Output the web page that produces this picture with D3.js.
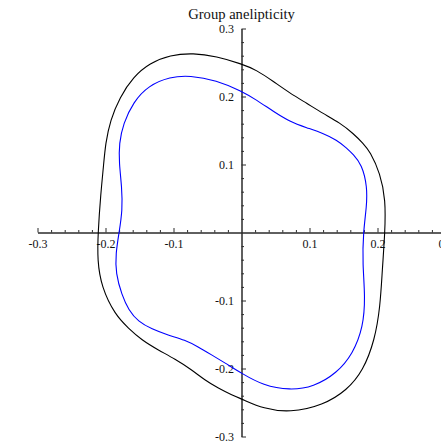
<!DOCTYPE html>
<html>
<head>
<meta charset="utf-8">
<script src="https://cdn.jsdelivr.net/npm/d3@7"></script>
<style>
  html, body { margin: 0; padding: 0; background: #fff; }
  svg { display: block; }
  text { font-family: "Liberation Serif", "Times New Roman", serif; }
</style>
</head>
<body>
<svg id="chart" width="441" height="447"></svg>
<script>
// Outer contour (black), traced clockwise from the top, [x, y]
const outerCurve = [
  [0.000, 0.248], [0.022, 0.239], [0.047, 0.222], [0.071, 0.205],
  [0.096, 0.190], [0.120, 0.175], [0.145, 0.161], [0.164, 0.146],
  [0.179, 0.131], [0.189, 0.119], [0.204, 0.087], [0.212, 0.048],
  [0.211, 0.000], [0.207, -0.055], [0.204, -0.109], [0.196, -0.158],
  [0.179, -0.203], [0.155, -0.232], [0.120, -0.254], [0.071, -0.265],
  [0.032, -0.259], [0.003, -0.246], [-0.014, -0.239], [-0.034, -0.229],
  [-0.054, -0.217], [-0.073, -0.202], [-0.098, -0.186], [-0.122, -0.173],
  [-0.147, -0.158], [-0.166, -0.141], [-0.186, -0.121], [-0.206, -0.080],
  [-0.212, -0.041], [-0.211, 0.000], [-0.207, 0.057], [-0.203, 0.097],
  [-0.200, 0.131], [-0.193, 0.165], [-0.179, 0.199], [-0.159, 0.229],
  [-0.135, 0.249], [-0.105, 0.261], [-0.071, 0.264], [-0.037, 0.259]
];

// Inner contour (blue), traced clockwise from the top, [x, y]
const innerCurve = [
  [0.000, 0.208], [0.022, 0.195], [0.047, 0.178], [0.071, 0.163],
  [0.096, 0.154], [0.120, 0.146], [0.140, 0.136], [0.155, 0.124],
  [0.164, 0.115], [0.177, 0.100], [0.185, 0.067], [0.184, 0.038],
  [0.179, 0.000], [0.178, -0.046], [0.182, -0.095], [0.179, -0.139],
  [0.164, -0.178], [0.140, -0.207], [0.106, -0.227], [0.071, -0.232],
  [0.032, -0.225], [0.000, -0.207], [-0.024, -0.192], [-0.044, -0.180],
  [-0.064, -0.168], [-0.083, -0.158], [-0.108, -0.151], [-0.132, -0.142],
  [-0.152, -0.131], [-0.166, -0.114], [-0.176, -0.092], [-0.185, -0.060],
  [-0.185, -0.031], [-0.180, 0.000], [-0.175, 0.033], [-0.176, 0.067],
  [-0.180, 0.102], [-0.180, 0.131], [-0.174, 0.160], [-0.159, 0.192],
  [-0.137, 0.216], [-0.105, 0.229], [-0.076, 0.231], [-0.037, 0.224]
];

// Axis ticks and their labels
const majorTicks = [-0.3, -0.2, -0.1, 0.1, 0.2, 0.3];
const majorLabels = ["-0.3", "-0.2", "-0.1", "0.1", "0.2", "0.3"];
const minorTicks = [-0.28, -0.26, -0.24, -0.22, -0.18, -0.16, -0.14, -0.12,
  -0.08, -0.06, -0.04, -0.02, 0.02, 0.04, 0.06, 0.08, 0.12, 0.14, 0.16, 0.18,
  0.22, 0.24, 0.26, 0.28];
const chartTitle = "Group anelipticity";

const svg = d3.select("#chart");

const x = d3.scaleLinear().domain([-0.3, 0.3]).range([37.5, 445.5]);
const y = d3.scaleLinear().domain([-0.3, 0.3]).range([436.5, 28.5]);

const labelOf = v => majorLabels[majorTicks.indexOf(v)];
const axisColor = "#2a2a2a";

// Horizontal axis through the origin, ticks pointing up, labels below
const xAxisG = svg.append("g").attr("transform", `translate(0,${y(0)})`);
xAxisG.append("g")
  .call(d3.axisBottom(x).tickValues(minorTicks).tickSize(-2.5).tickSizeOuter(0).tickFormat(""));
xAxisG.append("g")
  .call(d3.axisBottom(x).tickValues(majorTicks).tickSize(-4.5).tickSizeOuter(0)
    .tickPadding(7).tickFormat(labelOf));

// Vertical axis through the origin, ticks pointing right, labels left
const yAxisG = svg.append("g").attr("transform", `translate(${x(0)},0)`);
yAxisG.append("g")
  .call(d3.axisLeft(y).tickValues(minorTicks).tickSize(-2.5).tickSizeOuter(0).tickFormat(""));
yAxisG.append("g")
  .call(d3.axisLeft(y).tickValues(majorTicks).tickSize(-4.5).tickSizeOuter(0)
    .tickPadding(7.5).tickFormat(labelOf));

svg.selectAll(".domain").attr("stroke", axisColor).attr("stroke-width", 1);
svg.selectAll(".tick line").attr("stroke", axisColor).attr("stroke-width", 1);
svg.selectAll(".tick text")
  .attr("fill", "#111")
  .attr("font-family", "'Liberation Serif', 'Times New Roman', serif")
  .attr("font-size", 12)
  .style("font-family", "'Liberation Serif', 'Times New Roman', serif")
  .style("font-size", "12px");

// Closed contours, smoothed through the traced points
const line = d3.line()
  .x(d => x(d[0]))
  .y(d => y(d[1]))
  .curve(d3.curveBasisClosed);

svg.append("path")
  .datum(outerCurve)
  .attr("d", line)
  .attr("fill", "none")
  .attr("stroke", "#000")
  .attr("stroke-width", 1.1);

svg.append("path")
  .datum(innerCurve)
  .attr("d", line)
  .attr("fill", "none")
  .attr("stroke", "#0000ff")
  .attr("stroke-width", 1.1);

// Title
svg.append("text")
  .attr("x", x(0))
  .attr("y", 19)
  .attr("text-anchor", "middle")
  .attr("fill", "#111")
  .style("font-size", "14.6px")
  .text(chartTitle);
</script>
</body>
</html>
